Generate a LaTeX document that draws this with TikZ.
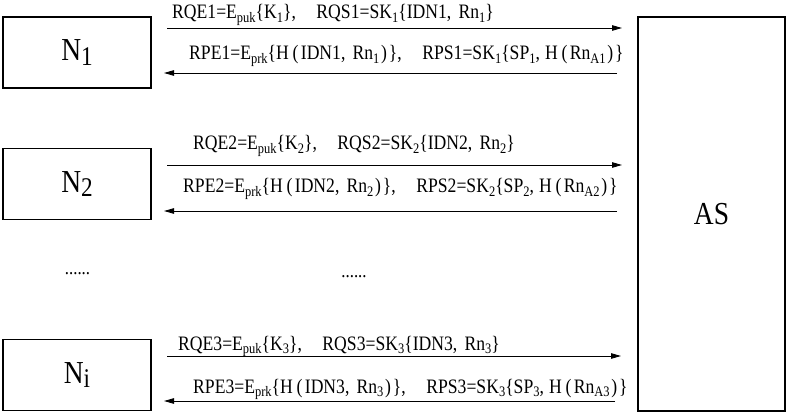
\documentclass[tikz,border=0pt]{standalone}
\usepackage{fontspec}
\setmainfont{Liberation Serif}[FakeStretch=0.86]
\usetikzlibrary{arrows.meta}
\newcommand{\msb}[1]{\raisebox{-0.17em}{\fontsize{14.5}{14.5}\selectfont #1}}
\newcommand{\bsb}[1]{\raisebox{-0.15em}{\fontsize{27}{27}\selectfont #1}}
\newcommand{\lp}{\hspace{0.18em}(\hspace{0.12em}}
\newcommand{\rp}{\hspace{0.08em})\hspace{0.1em}}
\newcommand{\cm}{,\hspace{1.0em}}
\tikzset{
  box/.style={draw, line width=1.3pt, minimum width=148pt, minimum height=71pt, inner sep=0pt, font=\fontsize{32}{32}\selectfont},
  msg/.style={-{Triangle[length=10pt,width=5.5pt]}, line width=0.9pt},
  lbl/.style={anchor=base west, inner sep=0pt, font=\fontsize{20.5}{22}\selectfont},
  dots/.style={inner sep=0pt, font=\fontsize{19.5}{19.5}\selectfont},
}
\begin{document}
\begin{tikzpicture}[x=1pt,y=-1pt]
\useasboundingbox (0,0) rectangle (789,414);
\node[box] (N1) at (77,52.5) {N\bsb{1}};
\node[box] (N2) at (77,184) {N\bsb{2}};
\node[box] (Ni) at (77,375) {N\bsb{i}};
\node[box, minimum width=147pt, minimum height=394pt] (AS) at (711.5,214) {AS};
% connector end points
\coordinate (r1s) at (167,28);  \coordinate (r1e) at (622,28);
\coordinate (l1s) at (617,73);  \coordinate (l1e) at (164,73);
\coordinate (r2s) at (167,165); \coordinate (r2e) at (622,165);
\coordinate (l2s) at (617,211); \coordinate (l2e) at (164,211);
\coordinate (r3s) at (167,356); \coordinate (r3e) at (621,356);
\coordinate (l3s) at (615,401); \coordinate (l3e) at (164,401);
\draw[msg] (r1s) -- (r1e);
\draw[msg] (l1s) -- (l1e);
\draw[msg] (r2s) -- (r2e);
\draw[msg] (l2s) -- (l2e);
\draw[msg] (r3s) -- (r3e);
\draw[msg] (l3s) -- (l3e);
% labels
\node[lbl] (t1a) at (172,19) {RQE1=E\msb{puk}\{K\msb{1}\}\cm RQS1=SK\msb{1}\{IDN1,\hspace{0.35em}Rn\msb{1}\}};
\node[lbl] (t1b) at (189,60) {RPE1=E\msb{prk}\{H\lp IDN1,\hspace{0.35em}Rn\msb{1}\rp\}\cm RPS1=SK\msb{1}\{SP\msb{1},\hspace{0.25em}H\lp Rn\msb{A1}\rp\}};
\node[lbl] (t2a) at (193,150) {RQE2=E\msb{puk}\{K\msb{2}\}\cm RQS2=SK\msb{2}\{IDN2,\hspace{0.35em}Rn\msb{2}\}};
\node[lbl] (t2b) at (183,193) {RPE2=E\msb{prk}\{H\lp IDN2,\hspace{0.35em}Rn\msb{2}\rp\}\cm RPS2=SK\msb{2}\{SP\msb{2},\hspace{0.25em}H\lp Rn\msb{A2}\rp\}};
\node[lbl] (t3a) at (178,350) {RQE3=E\msb{puk}\{K\msb{3}\}\cm RQS3=SK\msb{3}\{IDN3,\hspace{0.35em}Rn\msb{3}\}};
\node[lbl] (t3b) at (193,393) {RPE3=E\msb{prk}\{H\lp IDN3,\hspace{0.35em}Rn\msb{3}\rp\}\cm RPS3=SK\msb{3}\{SP\msb{3},\hspace{0.25em}H\lp Rn\msb{A3}\rp\}};
\node[dots] (d1) at (77.5,274) {......};
\node[dots] (d2) at (354,277) {......};
\end{tikzpicture}
\end{document}
